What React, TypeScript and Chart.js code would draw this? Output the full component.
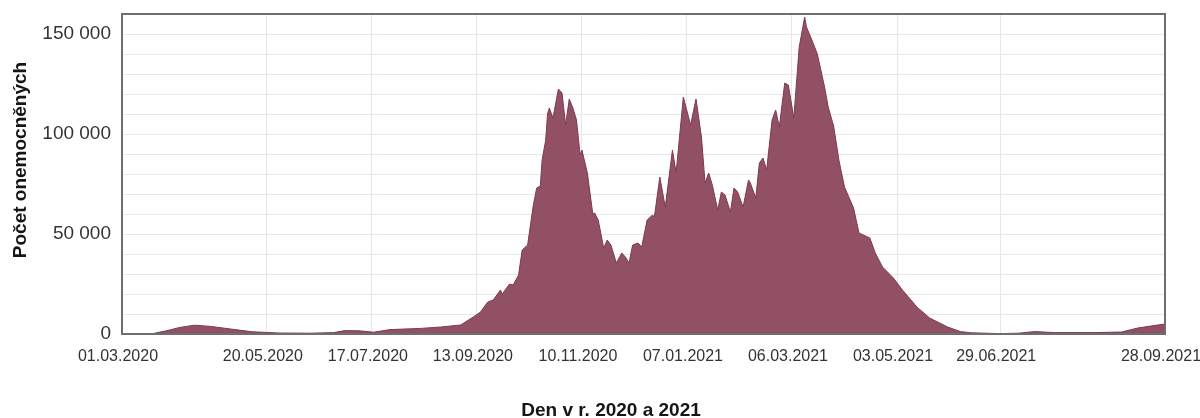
import React, { useEffect, useRef } from "react";
import { Chart, registerables } from "chart.js";

Chart.register(...registerables);

// Day index counted from the start date 01.03.2020
const START_DATE = "01.03.2020";

const dayIndex = [
  0, 10, 17, 24, 32, 40, 49, 60, 72, 87, 104, 117, 123, 131, 139, 148, 165, 176, 187,
  194, 198, 202, 205, 209, 210, 214, 216, 219, 221, 224, 227, 229, 231, 232, 234, 235,
  236, 238, 241, 243, 245, 247, 249, 251, 253, 254, 257, 260, 261, 263, 266, 268, 270,
  273, 276, 278, 280, 282, 285, 287, 290, 293, 294, 297, 300, 304, 306, 310, 314, 317,
  320, 322, 324, 326, 329, 331, 333, 336, 338, 340, 343, 346, 347, 350, 352, 354, 356,
  359, 361, 363, 366, 368, 371, 374, 377, 378, 381, 384, 388, 390, 393, 396, 399, 404,
  407, 413, 416, 420, 426, 431, 439, 446, 456, 463, 469, 485, 495, 504, 515, 537, 552,
  561, 572, 576,
];

const cases = [
  0, 0, 200, 1500, 3300, 4400, 3800, 2500, 1100, 500, 400, 700, 1700, 1600, 900, 2200, 2800, 3500, 4500,
  8500, 11000, 16000, 17000, 22000, 20000, 25000, 24500, 29500, 42000, 44500, 63500, 73000, 74000, 87000, 97000, 110000,
  113000, 108000, 122500, 120500, 104500, 117500, 113000, 107000, 89500, 92000, 80500, 60000, 60500, 57000, 43000, 47000, 44500,
  35500, 40500, 38500, 35500, 44500, 45500, 43500, 57000, 59500, 58500, 78500, 63500, 92000, 80500, 118500, 104500, 117500,
  98500, 75500, 80500, 74500, 62000, 71000, 69500, 61000, 73000, 71000, 63500, 77000, 75500, 68000, 85500, 88000, 82000,
  107000, 112000, 103500, 125500, 124500, 108000, 143500, 158500, 153500, 147000, 140000, 123500, 113500, 104000, 86500, 73500, 63000,
  50500, 48000, 40500, 33500, 28000, 22000, 13500, 8000, 3500, 1200, 600, 200, 400, 1200, 700, 700, 1000,
  3000, 4500, 5000,
];

const xTickLabels = [
  "01.03.2020", "20.05.2020", "17.07.2020", "13.09.2020", "10.11.2020",
  "07.01.2021", "06.03.2021", "03.05.2021", "29.06.2021", "28.09.2021",
];

const yMax = 160000;
const yGridStep = 10000;
const yLabelStep = 50000;

const yTitle = "Počet onemocněných";
const xTitle = "Den v r. 2020 a 2021";

const FONT = '"Liberation Sans", Arial, Helvetica, sans-serif';

function parseDate(s: string): number {
  const [d, m, y] = s.split(".").map(Number);
  return Date.UTC(y, m - 1, d);
}
const startMs = parseDate(START_DATE);
const tickDays = xTickLabels.map((s) => Math.round((parseDate(s) - startMs) / 86400000));

function formatThousands(v: number): string {
  return String(v).replace(/\B(?=(\d{3})+(?!\d))/g, " ");
}

const framePlugin = {
  id: "frameAndTitles",
  afterDraw(chart: any) {
    const { ctx, chartArea: a } = chart;
    ctx.save();
    ctx.strokeStyle = "#6e6e6e";
    ctx.lineWidth = 2;
    ctx.strokeRect(a.left, a.top, a.right - a.left, a.bottom - a.top);
    ctx.fillStyle = "#151515";
    ctx.font = `bold 19px ${FONT}`;
    ctx.textAlign = "center";
    ctx.textBaseline = "alphabetic";
    ctx.fillText(xTitle, 611, 416);
    ctx.translate(26, 160);
    ctx.rotate(-Math.PI / 2);
    ctx.fillText(yTitle, 0, 0);
    ctx.restore();
  },
};

export default function App() {
  const canvasRef = useRef<HTMLCanvasElement | null>(null);

  useEffect(() => {
    if (!canvasRef.current) return;
    const chart = new Chart(canvasRef.current, {
      type: "line",
      data: {
        datasets: [
          {
            data: dayIndex.map((d, i) => ({ x: d, y: cases[i] })),
            borderColor: "#7e3a4f",
            borderWidth: 1,
            backgroundColor: "#925064",
            fill: "origin",
            pointRadius: 0,
            tension: 0,
          },
        ],
      },
      options: {
        animation: false,
        responsive: true,
        maintainAspectRatio: false,
        layout: { padding: { left: 0, top: 14, right: 35, bottom: 0 } },
        plugins: { legend: { display: false }, tooltip: { enabled: false } },
        scales: {
          x: {
            type: "linear",
            min: 0,
            max: tickDays[tickDays.length - 1],
            afterBuildTicks: (scale: any) => {
              scale.ticks = tickDays.map((v) => ({ value: v }));
            },
            afterFit: (scale: any) => {
              scale.height = 84;
              scale.paddingLeft = 0;
              scale.paddingRight = 0;
            },
            grid: { color: "#e6e6e6", drawTicks: false, lineWidth: 1 },
            border: { display: false },
            ticks: {
              autoSkip: false,
              maxRotation: 0,
              padding: 13,
              labelOffset: -4,
              color: "#333",
              font: { family: FONT, size: 16 },
              callback: (v: any) => {
                const i = tickDays.indexOf(Number(v));
                return i >= 0 ? xTickLabels[i] : "";
              },
            },
          },
          y: {
            min: 0,
            max: yMax,
            afterBuildTicks: (scale: any) => {
              const t: { value: number }[] = [];
              for (let v = 0; v <= yMax; v += yGridStep) t.push({ value: v });
              scale.ticks = t;
            },
            afterFit: (scale: any) => {
              scale.width = 122;
              scale.paddingTop = 0;
              scale.paddingBottom = 0;
            },
            grid: { color: "#e8e8e8", drawTicks: false, lineWidth: 1 },
            border: { display: false },
            ticks: {
              autoSkip: false,
              padding: 11,
              color: "#333",
              font: { family: FONT, size: 19 },
              callback: (v: any) => (Number(v) % yLabelStep === 0 ? formatThousands(Number(v)) : ""),
            },
          },
        },
      },
      plugins: [framePlugin],
    });
    return () => chart.destroy();
  }, []);

  return (
    <div style={{ position: "fixed", left: 0, top: 0, width: 1200, height: 418, background: "#fff" }}>
      <canvas ref={canvasRef} />
    </div>
  );
}
